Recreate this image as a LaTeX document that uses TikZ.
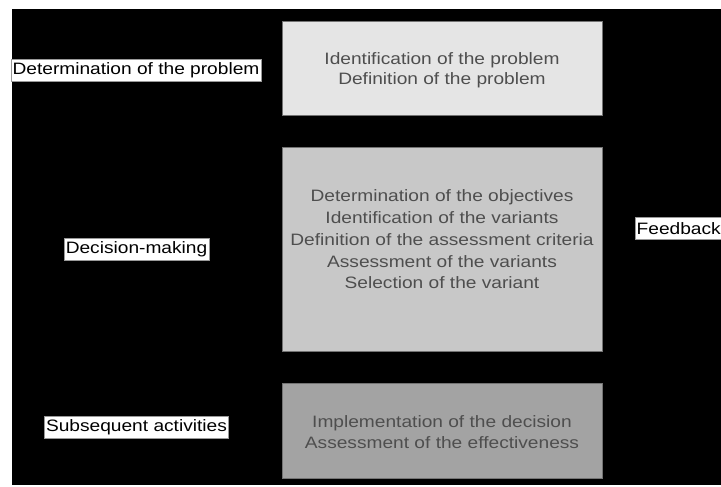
\documentclass[tikz,border=0pt]{standalone}
\usepackage{fontspec}
\setmainfont{Liberation Sans}[FakeStretch=1.16]
\definecolor{boxA}{HTML}{E5E5E5}
\definecolor{boxB}{HTML}{C8C8C8}
\definecolor{boxC}{HTML}{A3A3A3}
\definecolor{boxtext}{HTML}{4E4E4E}
\tikzset{
  stagebox/.style={draw=black!55, line width=0.8pt, rectangle, inner sep=0pt},
  boxlabel/.style={align=center, text=boxtext, inner sep=0pt, font=\fontsize{16.5}{#1}\selectfont},
  sidelabel/.style={fill=white, draw=black!40, line width=0.4pt, text=black, inner xsep=1.5pt, inner ysep=0pt, minimum height=22pt, font=\fontsize{16.5}{20}\selectfont}
}
\begin{document}
\begin{tikzpicture}[x=1pt, y=-1pt]
\useasboundingbox (0,0) rectangle (721,487);
\fill[white] (0,0) rectangle (721,487);
\fill[black] (12,9) rectangle (721,485);
% stage boxes
\node[stagebox, fill=boxA, minimum width=320pt, minimum height=94pt] (b1) at (442,68) {};
\node[stagebox, fill=boxB, minimum width=320pt, minimum height=204pt] (b2) at (442,249) {};
\node[stagebox, fill=boxC, minimum width=320pt, minimum height=95pt] (b3) at (442,430.5) {};
% box texts
\node[boxlabel=20] (t1) at (442,70) {Identification of the problem\\Definition of the problem};
\node[boxlabel=21.8] (t2) at (442,239.5) {Determination of the objectives\\Identification of the variants\\Definition of the assessment criteria\\Assessment of the variants\\Selection of the variant};
\node[boxlabel=21] (t3) at (442,432.5) {Implementation of the decision\\Assessment of the effectiveness};
% side labels
\node[sidelabel] (l1) at (136,70) {Determination of the problem};
\node[sidelabel] (l2) at (136.5,249) {Decision-making};
\node[sidelabel] (l3) at (136.5,427) {Subsequent activities};
\node[sidelabel, anchor=west] (fb) at (635,228.5) {Feedback};
\end{tikzpicture}
\end{document}
